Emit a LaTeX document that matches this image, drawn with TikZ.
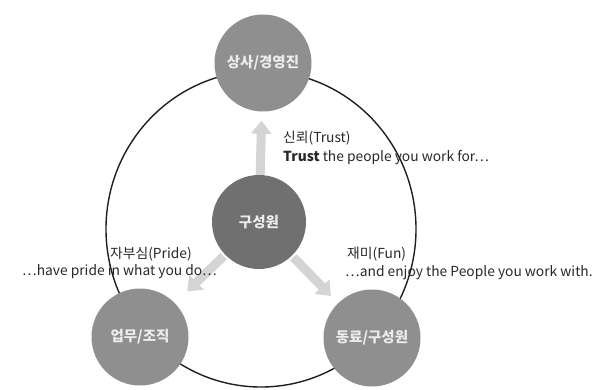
\documentclass[tikz,border=0pt]{standalone}
\usepackage{fontspec}
\setmainfont{Noto Sans CJK KR}
\usetikzlibrary{arrows.meta}
\pgfdeclarelayer{arrowlayer}
\pgfdeclarelayer{midlayer}
\pgfsetlayers{arrowlayer,midlayer,main}
\definecolor{outerfill}{RGB}{143,143,143}
\definecolor{innerfill}{RGB}{112,112,112}
\definecolor{arrowgray}{RGB}{212,212,212}
\definecolor{labelwhite}{RGB}{236,236,236}
\definecolor{textdark}{RGB}{40,40,40}
\tikzset{
  ball/.style={circle, fill=outerfill, minimum size=97pt, inner sep=0pt,
    text=labelwhite, font=\fontsize{14.5}{16}\selectfont\bfseries},
  coreball/.style={ball, fill=innerfill, minimum size=94pt},
  bigarrow/.style={draw=arrowgray, line width=9pt,
    -{Triangle[width=20pt,length=13pt]}},
  caption/.style={anchor=west, inner sep=0pt, text=textdark,
    font=\fontsize{13.8}{16}\selectfont},
  ring/.style={draw=black!88, line width=1.4pt}
}
\begin{document}
\begin{tikzpicture}[x=1pt,y=-1pt]
\useasboundingbox (0,0) rectangle (596,390);
% nodes
\node[ball] (boss) at (263,63) {상사/경영진};
\node[coreball] (me) at (259,222) {구성원};
\node[ball] (work) at (140,337) {업무/조직};
\node[ball] (peer) at (372,338) {동료/구성원};
\begin{pgfonlayer}{midlayer}
% captions
\node[caption] (trustk) at (283,138) {신뢰(Trust)};
\node[caption] (truste) at (283,158) {\textbf{Trust} the people you work for…};
\node[caption] (pridek) at (110,254) {자부심(Pride)};
\node[caption] (pridee) at (22,272) {…have pride in what you do…};
\node[caption] (funk) at (347,254) {재미(Fun)};
\node[caption] (fune) at (345,273) {…and enjoy the People you work with.};
% ring
\draw[ring] (261,229) ellipse [x radius=155, y radius=158];
\end{pgfonlayer}
\begin{pgfonlayer}{arrowlayer}
\draw[bigarrow, shorten >=9pt] (me) -- (boss);
\draw[bigarrow, shorten <=2pt, shorten >=17pt] (me) -- (work);
\draw[bigarrow, shorten <=2pt, shorten >=10pt] (me) -- (peer);
\end{pgfonlayer}
\end{tikzpicture}
\end{document}
